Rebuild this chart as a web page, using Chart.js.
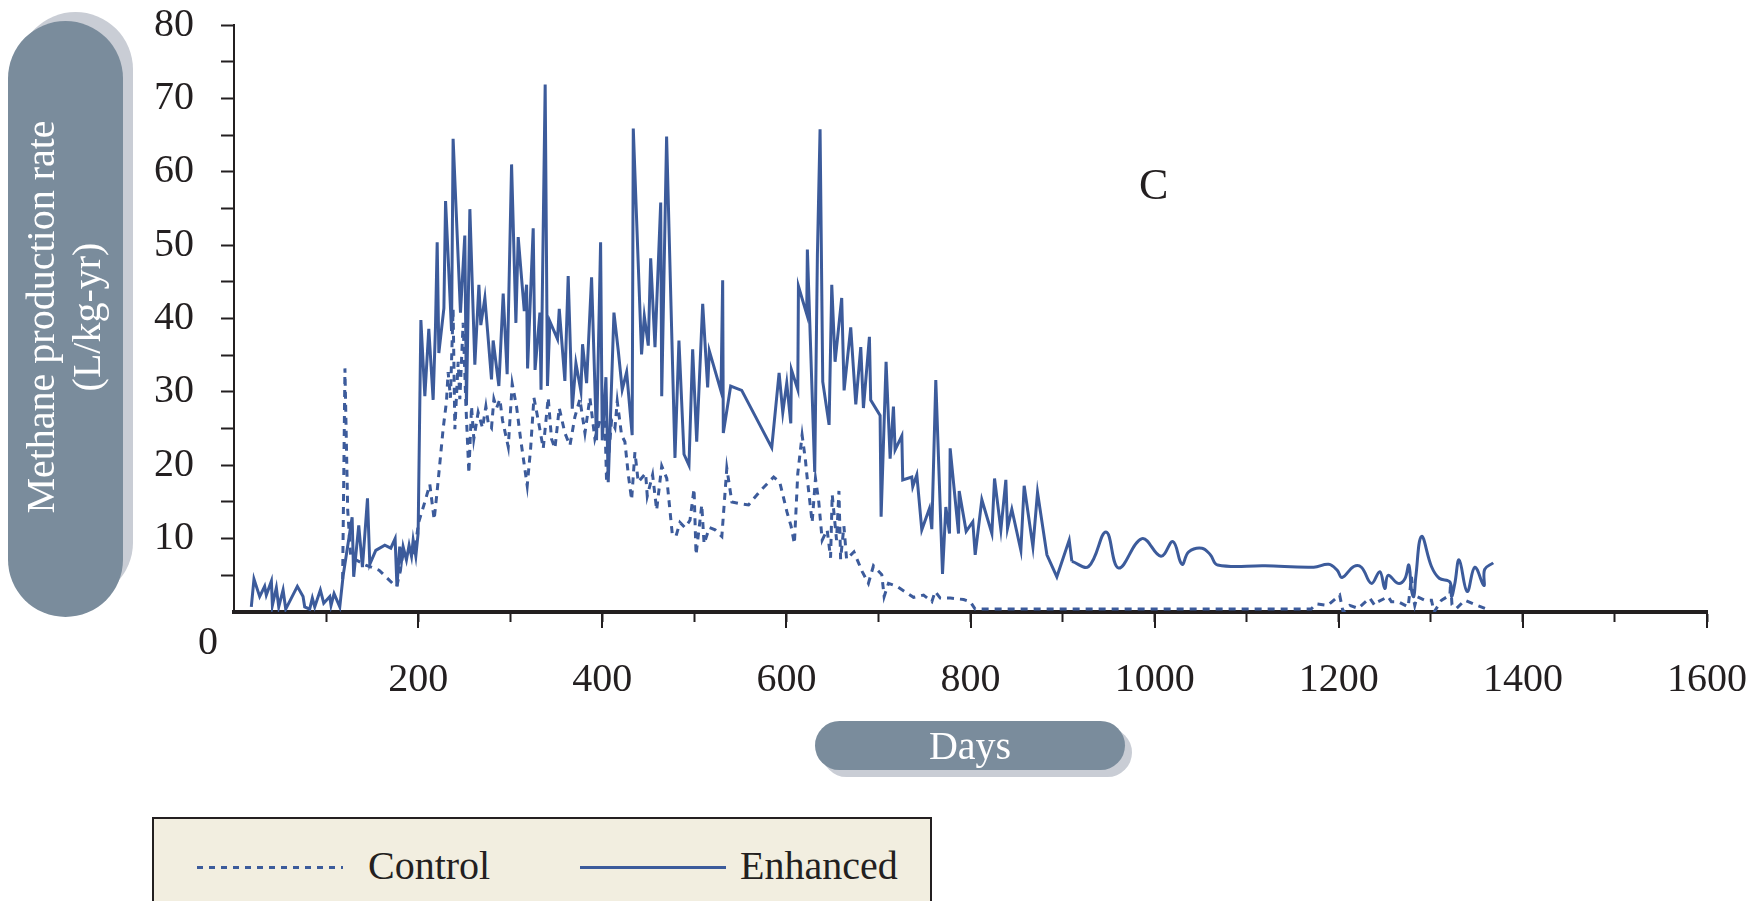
<!DOCTYPE html>
<html lang="en">
<head>
<meta charset="UTF-8" />
<title>Methane production rate</title>
<script src="https://cdn.jsdelivr.net/npm/chart.js"></script>
<style>
  body {
    margin: 0;
    background: #fff;
    font-family: 'Liberation Serif', 'Times New Roman', serif;
    color: #231f20;
  }
  #wrap { position: relative; width: 1761px; height: 901px; overflow: hidden; }
  #chart { position: absolute; left: 0; top: 0; }
  .pill { position: absolute; background: #7a8c9c; color: #fff; font-size: 40px; text-align: center; }
  .shade { position: absolute; background: #c9cdd5; }
  #yShade { left: 18px; top: 12px; width: 115px; height: 588px; border-radius: 58px; }
  #yPill { left: 8px; top: 21px; width: 115px; height: 596px; border-radius: 58px; }
  #yTitle {
    position: absolute; left: -216px; top: 271px; width: 560px; height: 92px;
    line-height: 46px; font-size: 40px; color: #fff; text-align: center;
    transform: rotate(-90deg);
  }
  #xShade { left: 822px; top: 728px; width: 310px; height: 49px; border-radius: 25px; }
  #xPill { left: 815px; top: 721px; width: 310px; height: 49px; line-height: 49px; border-radius: 25px; }
  .note { position: absolute; font-size: 40px; line-height: 40px; }
  #legend {
    position: absolute; left: 152px; top: 817px; width: 776px; height: 120px;
    background: #f2eee0; border: 2px solid #231f20;
  }
  .sample { position: absolute; top: 47px; width: 146px; height: 3px; }
  .dash { background: repeating-linear-gradient(to right, #3c5b9b 0 6px, transparent 6px 12px); }
  .solid { background: #3c5b9b; }
  .item { position: absolute; top: 27px; font-size: 40px; line-height: 40px; }
</style>
</head>
<body>
<div id="wrap">
  <canvas id="chart" width="1761" height="901"></canvas>
  <div class="shade" id="yShade"></div>
  <div class="pill" id="yPill"></div>
  <div id="yTitle">Methane production rate<br>(L/kg-yr)</div>
  <div class="shade" id="xShade"></div>
  <div class="pill" id="xPill">Days</div>
  <div class="note" style="left:1139px; top:163px; font-size:44px; line-height:44px;">C</div>
  <div class="note" style="left:198px; top:621px;">0</div>
  <div id="legend">
    <div class="sample dash" style="left:43px;"></div>
    <div class="item" style="left:214px;">Control</div>
    <div class="sample solid" style="left:426px;"></div>
    <div class="item" style="left:586px;">Enhanced</div>
  </div>
</div>
<script>
const INK = '#231f20';
const LINE = '#3c5b9b';
const SERIF = "'Liberation Serif', 'Times New Roman', serif";

const xLabels = [200, 400, 600, 800, 1000, 1200, 1400, 1600];
const yLabels = [10, 20, 30, 40, 50, 60, 70, 80];

// Enhanced reactor (solid line)
const enhancedDays = [
  18.8, 21.7, 27.9, 33.3, 35.1, 40.6, 41.7, 46, 48.6, 53.3, 56.2, 68.8, 75, 76.8, 82.2, 85.1, 87.7, 93.8, 97.5,
  104, 105.4, 108.7, 114.9, 118.5, 128.3, 130, 135.5, 139.5, 145, 147.5, 154, 163.8, 170.3, 175, 177, 180,
  181.9, 183.7, 187.3, 190.2, 192.8, 194.6, 197.5, 200, 203, 207.3, 211.6, 216.3, 218.8, 220.7, 222.5, 228,
  229.8, 236.3, 238, 246, 250.7, 252.5, 256.2, 261.6, 266, 268.1, 272.5, 279.7, 281.5, 287.7, 292.4, 296.7,
  301.5, 306.2, 308.7, 315.3, 317.8, 318.9, 325, 327, 332.3, 333.5, 338, 340.5, 343.1, 351.4, 353.3, 359.4,
  363, 367.4, 371.4, 376.8, 378.6, 383, 388.4, 393.8, 398.2, 400, 404, 406.5, 408.4, 412.7, 417.4, 421.7,
  426.5, 432.5, 433.7, 442.7, 445.7, 450, 452.6, 457.3, 463.5, 464.6, 469.9, 479, 483.3, 488.8, 494.2, 498.2,
  502.6, 509.1, 514.5, 516.3, 529, 530.8, 531.5, 539.5, 551.5, 584.1, 592.1, 596.1, 600.4, 604.8, 605.5,
  612.4, 613.1, 622.1, 622.8, 630.8, 633.7, 636.6, 639.5, 646.4, 649.3, 652.9, 660.1, 662.7, 669.9, 675.4,
  680.8, 683.7, 690.2, 691.6, 701.8, 702.9, 708.3, 712.7, 716.3, 718.1, 725.4, 726.4, 736.2, 737.3, 741.7,
  747.1, 755.4, 758, 762.3, 769.6, 773.2, 777.2, 777.9, 787, 787.7, 795.3, 802.5, 805.1, 812.3, 823.2, 826.1,
  833, 838.4, 840.2, 844.9, 854.7, 858.3, 867.8, 872.8, 883, 893.8, 907.2, 910.1,
  928.3, 947.2, 960.9, 986.3, 1006.9, 1019.9, 1029.7, 1037, 1051.4, 1060.5, 1068.5, 1120, 1172.8, 1189.1,
  1198.2, 1203.6, 1216.3, 1224.6, 1235.5, 1244.6, 1250, 1253.6, 1264.5, 1271.7, 1276.1, 1279, 1281.5, 1283.7,
  1289.9, 1300.7, 1309.1, 1320.7, 1322.5, 1326.1, 1330.8, 1339.5, 1347.8, 1357.6, 1358.5, 1367.8
];
const enhancedRate = [
  0.7, 4.5, 2.1, 3.5, 2.3, 4.2, 0.9, 3.3, 0.7, 3.0, 0.4, 3.5, 2.1, 0.7, 0.4, 1.9, 0.7, 3.0, 1.2,
  2.1, 0.9, 2.5, 0.7, 4.9, 12.9, 4.8, 11.8, 6.1, 15.5, 6.5, 8.4, 9.1, 8.7, 10.0, 3.5, 8.9,
  6.9, 8.9, 7.1, 9.1, 7.6, 9.8, 7.6, 10.7, 39.8, 29.4, 38.6, 28.9, 38.6, 50.4, 35.3, 41.4,
  56.0, 38.3, 64.5, 40.8, 51.3, 28.2, 54.9, 33.7, 44.6, 39.1, 42.8, 31.7, 37.0, 30.8, 43.4, 32.4,
  61.0, 39.4, 51.1, 41.0, 44.6, 33.2, 52.3, 33.0, 40.8, 30.3, 71.9, 30.8, 39.6, 37.2, 41.3, 31.5,
  45.8, 27.7, 33.9, 30.1, 36.5, 31.2, 45.6, 23.4, 50.4, 23.4, 32.0, 17.7, 24.6, 40.8, 35.6, 30.3,
  32.7, 24.1, 65.9, 35.1, 40.3, 36.3, 48.2, 36.1, 55.8, 29.4, 64.8, 21.0, 37.0, 21.5, 20.0, 35.8,
  23.2, 42.0, 30.6, 35.6, 30.1, 45.2, 24.4, 30.8, 30.2, 22.4, 32.6, 27.2, 31.2, 25.7, 33.0,
  30.3, 44.4, 40.6, 49.4, 19.1, 48.7, 65.8, 31.4, 25.5, 44.6, 34.1, 42.8, 30.2, 38.8, 28.3,
  36.1, 27.8, 37.5, 28.9, 26.8, 13.0, 34.1, 20.9, 28.0, 22.1, 24.0, 18.0, 18.4, 17.1, 18.7,
  11.2, 14.1, 11.3, 31.6, 5.2, 14.3, 10.7, 22.3, 10.7, 16.5, 11.0, 12.3, 7.8, 15.3, 10.7, 18.2,
  11.2, 18.0, 11.4, 14.0, 8.4, 17.2, 8.9, 16.3, 7.8, 4.8, 9.8, 6.9,
  6.2, 10.9, 6.0, 10.0, 7.6, 9.6, 6.5, 8.2, 8.7, 7.8, 6.4, 6.3, 6.1, 6.5,
  5.7, 4.7, 6.2, 6.1, 3.9, 5.5, 3.2, 5.0, 3.9, 4.5, 6.4, 3.0, 2.1, 4.8,
  10.3, 6.2, 4.6, 4.1, 2.1, 3.9, 7.1, 2.8, 6.1, 3.6, 5.8, 6.7
];
// from this day on the enhanced curve is drawn smoothed
const SMOOTH_FROM = 910.1;

// Control reactor (dashed line)
const controlDays = [
  118, 120.5, 123.5, 126.8, 143, 157.6, 173.9, 177, 183, 190, 196, 200.5, 207.3, 212.7, 217.4, 220.7,
  227.2, 230.8, 232.6, 235.1, 238, 239.9, 243.5, 245.3, 248.9, 251.8, 255.1, 258, 260.5, 265.2, 269.9,
  273.6, 276.1, 279.7, 282.3, 285.2, 288.8, 291.7, 297.9, 302.2, 306.9, 311.3, 318.5, 322.2, 325.8, 330.5,
  335.9, 341.3, 344.9, 348.6, 353.3, 359.4, 364.9, 370.3, 375.7, 381.2, 386.6, 392, 397.5, 402.9, 404.7,
  410.1, 413.8, 416.3, 421, 424.6, 428.3, 431.9, 435.5, 439.1, 447.1, 448.9, 454.7, 459.1, 464.6, 470.1,
  472, 476, 480, 484.4, 489.9, 495.3, 499.7, 501.9, 508.1, 510.6, 516.4, 522.6, 529.9, 535.3, 540.8, 548,
  558.9, 571.6, 586.2, 592.8, 600.7, 605.1, 608.7, 612.4, 617.1, 620.7, 622.5, 628, 631.6, 635.2, 638.9,
  644.3, 648, 649.8, 654.5, 657.1, 658.9, 662.5, 665.4, 673.4, 682.4, 689.1, 694.6, 703.6, 706.2, 710.9,
  720, 738.1, 749, 758, 761.6, 767.1, 778, 792.5, 799.7, 805, 1170, 1175.5, 1188, 1201, 1204.7, 1212,
  1221, 1233.7, 1239.1, 1242.8, 1253.6, 1257.2, 1264.5, 1275.4, 1279, 1281, 1282.6, 1285.1, 1293.5, 1300.7,
  1303.6, 1311.6, 1320.7, 1321.5, 1323, 1328, 1337, 1346.4, 1362.7
];
const controlRate = [
  4.5, 33.2, 13.9, 7.5, 6.4, 5.7, 3.7, 3.5, 7.5, 8.5, 8.0, 12.2, 15.0, 17.4, 12.6, 16.5,
  25.0, 28.7, 32.7, 29.2, 41.3, 24.9, 34.1, 29.0, 39.4, 28.5, 18.9, 28.0, 23.6, 27.2, 25.1,
  28.0, 25.8, 25.1, 29.0, 27.8, 29.0, 26.1, 22.5, 31.1, 28.0, 23.6, 17.2, 22.3, 29.2, 26.1,
  22.3, 29.2, 23.6, 22.3, 27.8, 24.4, 22.7, 26.6, 29.0, 24.4, 29.2, 23.6, 26.1, 26.1, 17.7,
  26.1, 25.1, 28.7, 24.1, 23.2, 18.7, 15.3, 21.8, 17.7, 18.9, 15.8, 18.7, 13.9, 19.9, 18.2,
  15.8, 10.7, 10.3, 12.2, 11.5, 12.5, 16.8, 7.8, 14.6, 9.3, 11.5, 11.2, 10.3, 19.6, 15.0, 14.8,
  14.6, 16.5, 18.4, 17.7, 13.6, 11.7, 9.3, 18.9, 24.1, 20.7, 18.4, 12.2, 18.2, 15.0, 9.8,
  11.2, 7.4, 16.0, 9.8, 16.5, 7.2, 11.7, 7.2, 8.2, 5.5, 3.9, 6.3, 5.1, 2.1, 3.9,
  3.5, 2.0, 2.3, 1.4, 2.8, 1.9, 1.9, 1.7, 1.4, 0.4, 0.4, 1.1, 0.9, 2.3, 0.0, 0.9,
  0.5, 1.9, 0.9, 1.4, 2.1, 1.4, 1.4, 0.7, 4.8, 2.0, 0.9, 2.1, 1.6, 1.6,
  0.0, 1.6, 2.3, 4.0, 1.0, 0.5, 1.6, 1.1, 0.3
];

function points(days, vals, keep) {
  return days.map((d, i) => ({ x: d, y: vals[i] })).filter(p => keep(p.x));
}

const hideZero = c => (c.tick && c.tick.value === 0) ? 'rgba(0,0,0,0)' : INK;

// major x ticks (every 200 days) are longer than the 100-day ones
const longTicks = {
  id: 'longTicks',
  afterDraw(chart) {
    const s = chart.scales.x, c = chart.ctx;
    c.save();
    c.strokeStyle = INK;
    c.lineWidth = 2;
    xLabels.forEach(v => {
      const px = Math.round(s.getPixelForValue(v));
      c.beginPath();
      c.moveTo(px, s.top);
      c.lineTo(px, s.top + 16);
      c.stroke();
    });
    c.restore();
  }
};

const base = { borderColor: LINE, borderWidth: 3, pointRadius: 0, fill: false };

new Chart(document.getElementById('chart'), {
  type: 'line',
  data: {
    datasets: [
      { ...base, label: 'Control', data: points(controlDays, controlRate, () => true), borderDash: [7, 6], tension: 0 },
      { ...base, label: 'Enhanced', data: points(enhancedDays, enhancedRate, d => d <= SMOOTH_FROM), tension: 0 },
      { ...base, label: 'Enhanced', data: points(enhancedDays, enhancedRate, d => d >= SMOOTH_FROM), tension: 0.4 }
    ]
  },
  options: {
    responsive: false,
    animation: false,
    devicePixelRatio: 1,
    layout: { padding: { top: 25, right: 54, left: 0, bottom: 0 } },
    plugins: { legend: { display: false }, tooltip: { enabled: false } },
    scales: {
      x: {
        type: 'linear', min: 0, max: 1600,
        afterFit: s => { s.height = 901 - 612; s.paddingLeft = 0; s.paddingRight = 0; },
        border: { color: INK, width: 4 },
        grid: { drawOnChartArea: false, tickLength: 10, tickWidth: 2, tickColor: hideZero },
        ticks: {
          stepSize: 100, autoSkip: false, maxRotation: 0, padding: 34, color: INK,
          font: { family: SERIF, size: 40 },
          callback: v => xLabels.includes(v) ? String(v) : ''
        }
      },
      y: {
        min: 0, max: 80,
        afterFit: s => { s.width = 234; s.paddingTop = 0; s.paddingBottom = 0; },
        border: { color: INK, width: 2 },
        grid: { drawOnChartArea: false, tickLength: 13, tickWidth: 2, tickColor: hideZero },
        ticks: {
          stepSize: 5, autoSkip: false, padding: 27, color: INK,
          font: { family: SERIF, size: 40 },
          callback: v => yLabels.includes(v) ? String(v) : ''
        }
      }
    }
  },
  plugins: [longTicks]
});
</script>
</body>
</html>
